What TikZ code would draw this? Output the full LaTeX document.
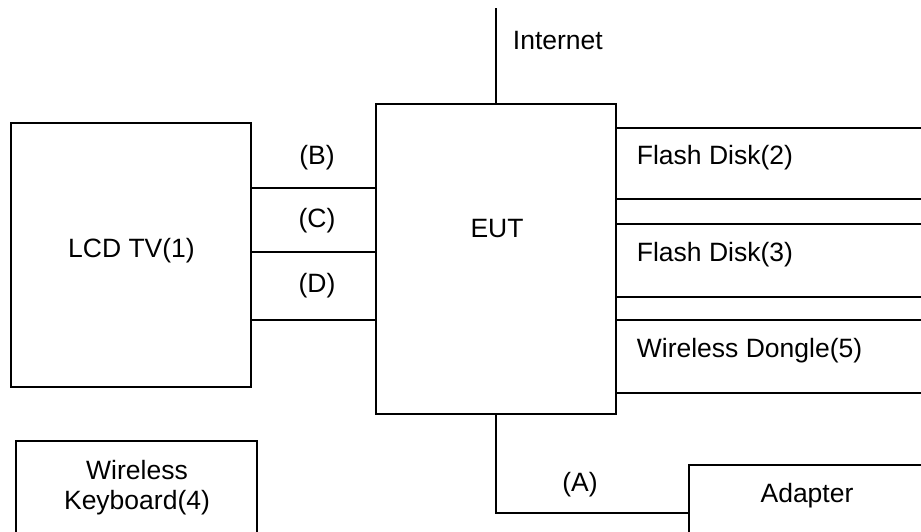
\documentclass[tikz,border=0pt]{standalone}
\usepackage{fontspec}
\setmainfont{Liberation Sans}
\usetikzlibrary{positioning}

\begin{document}
\begin{tikzpicture}[x=1pt, y=-1pt, line width=1.8pt,
        box/.style={draw, minimum width=#1, inner sep=0pt},
        txt/.style={inner sep=0pt, font=\fontsize{26.5}{30}\selectfont},
    ]
        \useasboundingbox (0, 0) rectangle (921, 532);
        \clip (0, 0) rectangle (921, 532);

        \node[box=240pt, minimum height=264pt] (lcd) at (131, 255) {};
        \node[box=240pt, minimum height=310pt] (eut) at (496, 259) {};
        \node[box=241pt, minimum height=104pt] (kbd) at (136.5, 493) {};
        \node[box=241pt, minimum height=95pt] (adapter) at (809.5, 512.5) {};
        \node[box=344pt, minimum height=71pt] (fdtwo) at (788, 163.5) {};
        \node[box=344pt, minimum height=73pt] (fdthree) at (788, 260.5) {};
        \node[box=344pt, minimum height=73pt] (dongle) at (788, 356.5) {};

        \node[txt, anchor=base] (lcdtxt) at (131.5, 257) {LCD TV(1)};
        \node[txt, anchor=base] (euttxt) at (497, 237) {EUT};
        \node[txt, anchor=base, align=center] (kbdtxt) at (137, 509.5) {Wireless\\Keyboard(4)};
        \node[txt, anchor=base] (adaptertxt) at (807, 502.5) {Adapter};
        \node[txt, anchor=base west] (fdtwotxt) at (636, 164.5) {Flash Disk(2)};
        \node[txt, anchor=base west] (fdthreetxt) at (636, 261.5) {Flash Disk(3)};
        \node[txt, anchor=base west] (dongletxt) at (636, 357.5) {Wireless Dongle(5)};

        % connections
        \coordinate (net) at (496, 8);
        \draw (eut.north) -- (net);
        \node[txt, anchor=base west] (nettxt) at (512, 50) {Internet};

        \draw (lcd.east |- 0, 188) -- (eut.west |- 0, 188);
        \draw (lcd.east |- 0, 252) -- (eut.west |- 0, 252);
        \draw (lcd.east |- 0, 320) -- (eut.west |- 0, 320);
        \node[txt, anchor=base] (btxt) at (317, 164.5) {(B)};
        \node[txt, anchor=base] (ctxt) at (317, 227.5) {(C)};
        \node[txt, anchor=base] (dtxt) at (317, 292.5) {(D)};

        \draw (eut.south) |- (adapter.west |- 0, 513);
        \node[txt, anchor=base] (atxt) at (580, 491.5) {(A)};
    \end{tikzpicture}
\end{document}
